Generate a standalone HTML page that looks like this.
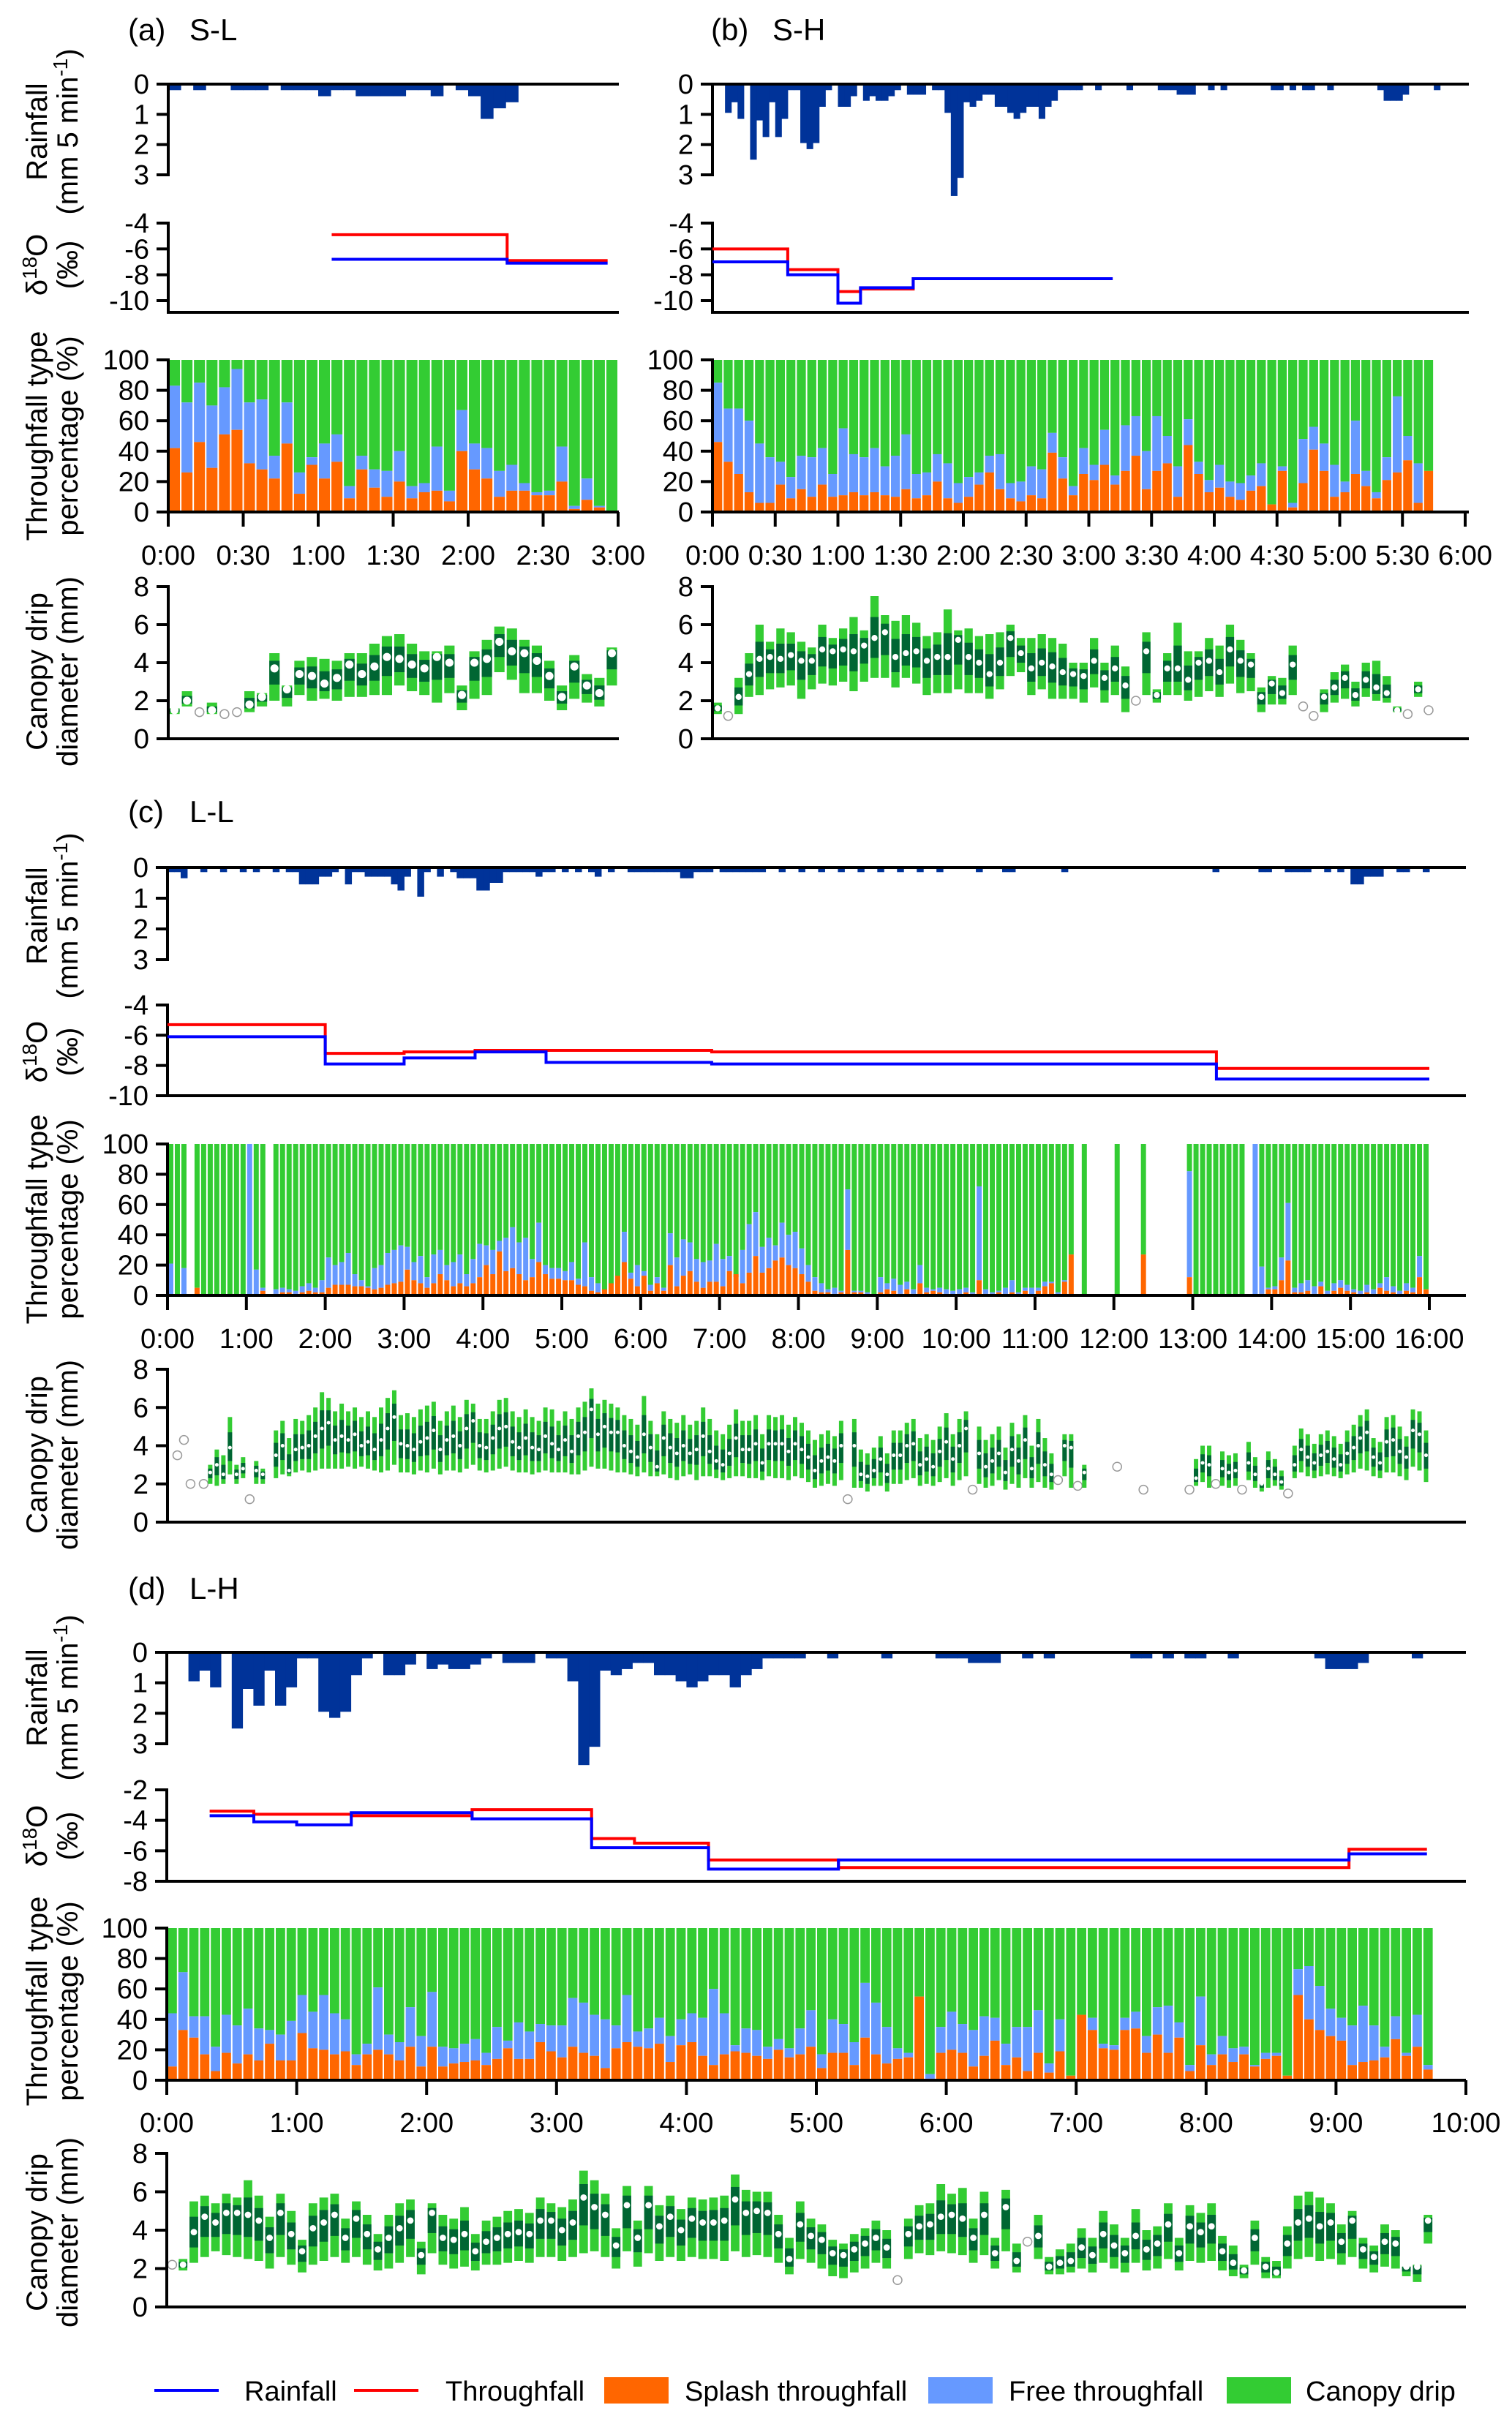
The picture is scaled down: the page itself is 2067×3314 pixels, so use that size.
<!DOCTYPE html>
<html><head><meta charset="utf-8"><style>
html,body{margin:0;padding:0;background:#fff}
svg{display:block;font-family:"Liberation Sans",Arial,sans-serif}
</style></head><body>
<svg id="fig" width="2067" height="3314" viewBox="0 0 2067 3314" xmlns="http://www.w3.org/2000/svg"></svg>
<script>
// ---------- DATA ----------
const aRain=[.2,0,.2,0,0,.2,.2,.2,0,.2,.2,.2,.4,.2,.2,.4,.4,.4,.4,.2,.2,.4,0,.2,.4,1.15,.8,.6,0,0,0,0,0,0,0,0];
const hRain=[0,0,.95,.6,1.15,0,2.5,1.2,1.75,.6,1.75,1.15,.2,.2,1.95,2.15,1.95,.75,.2,0,.75,.75,.4,0,.55,.4,.55,.55,.4,.2,0,.35,.35,.35,0,.2,.2,.95,3.7,3.1,.6,.75,.55,.35,.35,.75,.75,.95,1.15,.95,.75,.75,1.15,.75,.55,.2,.2,.2,.2,0,0,.2,0,0,0,0,.2,0,0,0,0,.2,.2,.2,.35,.35,.35,0,0,.2,0,.2,0,0,0,0,0,0,0,.2,.2,0,.2,0,.2,.2,0,0,.2,0,0,0,0,0,0,0,.2,.55,.55,.55,.35,0,0,0,0,.2,0,0,0,0];
const cRain=[.15,.15,.35,0,0,.15,0,0,.15,0,0,.15,0,.15,0,0,.15,0,.15,.15,
.55,.55,.55,.3,.3,.15,0,.55,.15,.15,.3,.3,.3,.3,.55,.75,.3,0,.95,.15,
0,.3,0,.15,.35,.35,.35,.75,.75,.5,.5,.15,.15,.15,.15,.15,.3,.15,.15,0,
.15,0,.15,0,.15,.3,0,.15,0,0,.15,.15,.15,.15,.15,.15,.15,.15,.35,.35,
.15,.15,.15,0,.15,.15,.15,.15,.15,.15,.15,0,0,.15,0,0,.15,0,0,.15,
0,0,.15,0,0,.15,0,0,.15,0,0,.15,0,0,.15,0,0,.15,0,0,
0,0,0,.15,0,0,0,.15,.15,0,0,0,0,0,0,0,.15,0,0,0,
0,0,0,0,0,0,0,0,0,0,0,0,0,0,0,0,0,0,0,.15,
0,0,0,0,0,0,.15,.15,0,0,.15,.15,.15,.15,0,0,.15,0,.15,0,
.55,.55,.3,.3,.3,0,0,.15,.15,0,0,.15];

const aRainT=[1.09,2.26,2.93], aRainV=[-6.8,-7.1];
const aTfT=[1.09,2.26,2.93], aTfV=[-4.9,-6.9];
const bRainT=[0,0.6,1.0,1.18,1.6,3.19], bRainV=[-7,-8,-10.2,-9,-8.3];
const bTfT=[0,0.6,1.0,1.18,1.6,3.19], bTfV=[-6,-7.6,-9.3,-9.1,-8.3];
const cRainT=[0,2,3,3.9,4.8,6.9,13.3,16], cRainV=[-6.1,-7.9,-7.5,-7.1,-7.8,-7.9,-8.9];
const cTfT=[0,2,3,3.9,4.8,6.9,13.3,16], cTfV=[-5.3,-7.2,-7.1,-7.0,-7.0,-7.1,-8.2];
const dRainT=[0.33,0.67,1.0,1.42,2.35,3.27,4.17,5.17,9.1,9.7], dRainV=[-3.7,-4.1,-4.3,-3.5,-3.9,-5.8,-7.2,-6.6,-6.2];
const dTfT=[0.33,0.67,1.42,2.35,3.27,3.6,4.17,5.17,9.1,9.7], dTfV=[-3.4,-3.6,-3.7,-3.3,-5.2,-5.5,-6.6,-7.1,-5.9];

const aSplash=[42,26,46,29,51,54,32,28,22,45,12,31,22,33,9,28,16,10,20,9,13,14,7,40,28,22,10,14,14,11,11,20,2,8,3,0];
const aTop=[83,72,85,70,82,94,72,74,37,72,26,36,45,51,17,37,28,27,40,17,19,43,14,67,45,42,27,31,19,13,14,43,4,22,4,0];
const bSplash=[46,33,25,13,6,6,18,9,15,10,18,10,11,13,11,13,11,10,15,9,11,20,9,6,10,18,26,15,9,7,11,9,39,22,11,25,21,31,18,27,37,15,27,32,10,44,25,13,16,10,8,14,17,5,27,3,19,41,27,10,13,25,17,9,21,26,34,6,27];
const bTop=[85,68,68,60,45,36,33,23,37,36,42,25,55,38,36,42,30,37,51,25,26,38,32,19,23,26,37,38,19,20,30,28,52,36,17,42,31,54,24,57,63,40,63,50,30,61,33,21,31,20,19,24,32,5,30,6,48,56,45,31,20,60,27,13,36,76,50,32,27];
const cSplash=[0,0,0,null,5,0,0,0,0,0,0,0,0,0,3,null,
1,2,2,1,2,3,2,2,
5,7,7,7,6,6,5,4,5,7,8,9,
17,10,8,5,8,14,10,6,8,6,8,12,
20,14,29,16,18,14,10,12,22,14,11,11,
10,10,7,6,3,2,4,8,13,22,11,6,
13,3,8,3,20,6,13,16,9,5,9,9,
6,16,14,8,15,26,15,18,23,25,20,18,
14,9,3,2,2,1,2,30,2,2,1,0,
2,4,3,1,4,1,8,2,3,2,1,0,
1,2,1,10,1,1,2,1,2,1,3,0,
3,6,8,1,9,27,null,0,null,null,null,null,
0,null,null,null,27,null,null,null,null,null,null,
12,0,0,0,0,0,0,0,0,null,0,1,4,4,10,23,2,2,3,1,6,1,3,5,3,2,1,2,1,5,3,2,1,3,2,12,4];
const cTop=[21,0,18,null,5,0,0,0,0,0,0,0,100,17,5,null,
4,5,4,3,6,8,5,10,
25,20,22,28,14,10,6,18,20,28,30,33,
32,22,26,12,27,30,20,22,27,14,24,34,
33,30,36,38,45,35,38,24,48,20,18,18,
16,22,11,35,12,8,3,7,8,42,15,20,
16,7,12,5,41,25,37,35,24,22,23,34,
24,26,12,30,47,55,32,38,33,48,40,42,
31,20,12,8,4,5,3,70,3,3,2,0,
12,8,11,7,9,4,20,5,4,5,4,3,
4,5,2,72,4,2,3,5,10,2,5,5,
5,9,9,2,10,27,null,0,null,null,null,null,
0,null,null,null,27,null,null,null,null,null,null,
82,0,0,0,0,0,0,0,0,null,100,19,5,6,25,61,5,8,10,6,9,3,8,10,7,4,3,7,4,8,12,6,3,8,5,26,4];
const dSplash=[9,33,28,17,6,18,11,17,13,24,13,13, 31,21,20,17,19,10,17,20,17,13,22,9, 22,9,11,12,13,10,14,21,14,14,25,19, 15,22,18,16,8,21,25,22,21,24,12,23, 25,16,10,17,19,18,16,14,20,15,17,22, 8,18,18,10,28,17,11,14,15,55,1,18, 20,18,9,16,26,10,15,6,18,5,19,3, 43,33,21,20,33,34,18,30,18,28,6,23, 10,17,12,17,9,14,16,3,56,40,33,29, 26,10,12,13,15,27,16,22,7];
const dTop=[44,71,42,42,22,43,36,47,34,33,30,39, 56,45,56,44,40,17,24,61,30,25,48,29, 58,22,21,24,27,18,35,26,38,32,37,36, 36,54,51,43,40,36,56,32,34,41,29,40, 44,41,60,44,23,34,33,22,27,21,34,46, 17,40,37,25,64,51,35,21,18,55,4,35, 45,37,33,42,41,24,35,35,46,11,40,3, 43,41,24,23,41,45,29,48,49,38,10,55, 17,29,21,22,10,18,18,3,73,75,62,47, 41,36,49,36,22,42,18,43,10];

const aMed=[1.5,2.0,1.4,1.5,1.3,1.4,1.8,2.2,3.7,2.6,3.4,3.3,2.9,3.2,3.9,3.4,3.8,4.3,4.2,3.9,3.7,4.3,4.0,2.3,4.0,4.2,5.1,4.6,4.5,4.1,3.3,2.2,3.8,2.8,2.4,4.5];
const aLow=[1.3,1.7,1.4,1.3,1.3,1.4,1.4,1.7,2.0,1.7,2.3,2.0,2.1,2.0,2.2,2.2,2.3,2.3,2.8,2.5,2.3,1.9,2.4,1.5,2.1,2.3,3.5,3.1,2.4,2.4,2.0,1.5,2.1,1.9,1.7,2.8];
const aHigh=[1.6,2.5,1.4,1.9,1.3,1.4,2.5,2.4,4.5,2.8,4.1,4.3,4.2,4.1,4.5,4.5,5.0,5.4,5.5,5.0,4.6,4.6,4.9,2.8,4.6,5.2,5.9,5.8,5.2,4.9,4.1,2.8,4.4,3.4,3.2,4.8];
const bMed=[1.6,1.2,2.2,3.4,4.2,4.3,4.2,4.4,4.1,4.1,4.7,4.6,4.7,4.6,4.9,5.3,5.6,4.3,4.5,4.6,4.1,4.3,4.3,5.2,4.3,4.0,3.4,4.0,5.3,4.5,3.7,4.0,3.8,3.5,3.4,3.3,4.1,3.2,3.7,2.8,2.0,4.6,2.3,3.7,3.7,3.1,4.0,4.1,3.5,4.7,4.1,3.9,2.2,2.9,2.4,3.9,1.7,1.2,2.2,2.7,3.2,2.3,3.1,2.7,2.4,1.5,1.3,2.6,1.5];
const bLow=[1.3,1.2,1.3,2.2,2.3,2.6,2.7,2.8,2.1,2.6,2.9,2.8,3.0,2.5,3.0,3.2,3.2,2.7,3.2,2.9,2.3,2.4,2.4,2.6,2.4,2.4,2.1,2.6,3.3,3.5,2.3,2.6,2.1,2.1,2.1,1.9,2.7,1.9,2.3,1.4,2.0,2.3,1.9,2.3,2.3,2.0,2.2,2.5,2.2,2.9,2.4,2.5,1.4,1.8,1.8,2.3,1.7,1.2,1.4,1.9,2.1,1.7,2.2,2.0,1.9,1.4,1.3,2.2,1.5];
const bHigh=[1.9,1.2,3.2,4.5,6.0,5.1,5.8,5.6,5.1,4.8,6.0,5.3,5.8,6.4,5.7,7.5,6.5,6.2,6.5,6.1,5.4,5.6,6.8,5.7,5.8,5.4,5.5,5.6,6.0,5.3,5.3,5.5,5.3,5.0,4.0,4.0,5.3,4.0,4.9,3.8,2.0,5.6,2.6,4.5,6.1,4.6,4.6,5.3,4.9,6.0,5.2,4.5,2.7,3.3,3.2,4.9,1.7,1.2,2.6,3.5,3.9,3.0,4.0,4.1,3.3,1.7,1.3,3.0,1.5];
const N=null;
const cMed=[N,3.5,4.3,2.0,N,2.0,2.6,3.0,2.5,3.9,2.5,2.8,1.2,2.7,2.5,N,
3.5,4.0,2.7,3.8,3.9,4.0,4.5,4.9,
5.2,4.3,4.5,4.3,4.6,4.0,4.2,3.8,4.3,4.9,5.5,4.1,
4.0,3.8,4.2,4.4,4.8,3.8,4.3,4.5,4.0,4.9,5.3,4.0,
3.9,4.4,4.9,5.0,4.2,3.9,4.4,3.9,3.8,4.5,4.1,3.8,
4.3,3.7,4.5,4.7,5.9,4.6,5.0,4.7,4.7,4.0,3.7,3.4,
4.6,3.9,2.9,4.4,3.9,3.6,4.0,3.6,3.8,4.5,3.7,3.2,
3.0,3.6,4.4,3.8,3.8,4.1,3.1,4.1,4.1,4.1,3.7,4.1,
3.8,3.4,2.7,3.2,3.4,3.2,4.0,1.2,4.0,2.5,2.4,2.7,
3.3,2.5,3.5,3.5,4.0,4.1,3.0,3.3,2.9,3.7,4.2,3.3,
4.0,4.9,1.7,3.6,2.9,3.2,3.6,2.6,3.8,3.2,4.3,2.8,
4.0,3.0,2.5,2.2,4.0,3.9,1.9,2.6,N,N,N,N,
2.9,N,N,N,1.7,N,N,N,N,N,N,1.7,
2.3,3.1,3.0,2.0,2.8,2.6,2.7,1.7,3.1,2.5,2.0,2.8,
2.5,2.1,1.5,3.0,3.8,3.4,3.1,3.5,3.7,3.3,3.0,3.6,
3.9,4.4,4.7,3.4,3.1,4.2,4.3,3.7,3.4,4.8,4.6,3.5];
const cLow=[N,3.5,4.3,2.0,N,2.0,2.0,1.9,2.0,2.5,2.0,2.3,1.2,2.0,2.0,N,
2.3,2.5,2.4,2.6,2.7,2.6,2.7,2.8,
2.8,2.8,2.8,2.9,2.8,2.9,2.8,2.7,2.6,2.7,3.0,2.6,
2.6,2.5,2.7,2.6,2.8,2.5,2.7,2.7,2.6,2.8,3.0,2.7,
2.6,2.7,2.8,2.9,2.7,2.6,2.6,2.5,2.6,2.7,2.6,2.6,
2.6,2.5,2.5,2.7,2.9,2.8,2.8,2.7,2.6,2.6,2.5,2.4,
2.6,2.4,2.4,2.5,2.3,2.2,2.4,2.5,2.2,2.4,2.4,2.3,
2.2,2.3,2.4,2.4,2.3,2.3,2.2,2.4,2.3,2.3,2.2,2.4,
2.3,2.1,1.8,1.9,2.0,1.9,2.2,1.2,1.8,1.8,1.6,1.9,
1.9,1.6,2.0,2.0,2.2,2.3,1.9,2.0,1.9,2.1,2.3,1.9,
2.2,2.4,1.7,2.0,1.8,1.9,2.2,1.7,2.0,1.8,2.3,1.8,
2.1,1.8,1.7,2.2,2.4,1.8,1.9,1.8,N,N,N,N,
2.9,N,N,N,1.7,N,N,N,N,N,N,1.7,
1.9,2.1,1.8,2.0,1.9,1.8,1.9,1.7,2.2,1.8,1.6,1.8,
1.9,1.7,1.5,2.3,2.6,2.4,2.3,2.4,2.5,2.4,2.3,2.5,
2.6,2.8,2.7,2.4,2.3,2.6,2.6,2.4,2.2,2.9,2.7,2.1];
const cHigh=[N,3.5,4.3,2.0,N,2.0,3.0,3.8,3.5,5.5,3.0,3.4,1.2,3.2,2.8,N,
4.8,5.3,4.4,5.4,5.3,5.6,6.0,6.8,
6.5,5.8,6.2,5.8,6.0,5.5,5.8,5.5,6.0,6.5,6.9,5.6,
5.7,5.5,5.9,6.1,6.3,5.3,5.8,6.1,5.5,6.4,6.2,5.4,
5.4,5.8,6.4,6.5,5.8,5.5,5.9,5.5,5.3,6.0,5.9,5.3,
5.8,5.4,6.0,6.3,7.0,6.2,6.4,6.2,6.0,5.6,5.4,5.1,
6.6,5.3,4.6,5.8,5.4,5.2,5.6,5.1,5.3,6.0,5.4,4.8,
4.6,5.1,5.9,5.3,5.3,5.6,4.6,5.6,5.5,5.6,5.1,5.5,
5.2,4.8,4.3,4.6,4.8,4.5,5.3,1.2,5.4,3.8,3.6,3.9,
4.5,3.6,4.8,4.8,5.2,5.4,4.4,4.6,4.3,5.0,5.7,4.6,
5.4,5.8,1.7,5.0,4.3,4.6,5.0,3.9,5.2,4.6,5.6,4.0,
5.4,4.4,3.6,2.2,4.6,4.6,1.9,3.0,N,N,N,N,
2.9,N,N,N,1.7,N,N,N,N,N,N,1.7,
3.3,4.0,4.0,2.0,3.7,3.5,3.6,1.7,4.2,3.4,2.0,3.7,
3.3,2.7,1.5,4.0,4.9,4.6,4.1,4.6,4.8,4.5,4.1,4.8,
5.1,5.6,5.9,4.4,4.2,5.5,5.6,5.0,4.5,5.9,5.8,4.8];
const dMed=[2.2,2.2,3.9,4.7,4.4,4.9,4.9,4.8,4.5,3.6,4.9,3.8, 2.9,4.1,4.4,4.8,3.6,4.6,3.8,3.0,3.6,4.1,4.5,2.7, 4.9,3.6,3.5,3.8,2.9,3.4,3.6,3.8,3.9,3.8,4.5,4.5, 4.0,4.4,5.7,5.2,4.8,3.2,5.3,3.6,5.3,4.2,4.7,4.0, 4.6,4.4,4.4,4.5,5.6,4.9,5.0,4.9,3.8,2.5,4.3,3.7, 3.5,2.8,2.7,3.0,3.3,3.6,3.1,1.4,3.8,4.2,4.3,4.7, 4.8,4.6,3.6,4.8,2.8,5.2,2.4,3.4,3.7,2.1,2.3,2.4, 3.1,2.7,3.8,3.2,2.8,3.7,3.0,3.3,4.3,2.8,4.2,3.9, 4.2,2.9,2.3,1.9,3.6,2.1,1.8,3.3,4.4,4.6,4.2,4.4, 3.4,4.5,3.0,2.6,3.4,3.3,2.1,2.1,4.5];
const dLow=[2.2,1.9,2.3,2.6,2.9,2.7,2.6,2.5,2.4,2.0,2.6,2.2, 1.8,2.2,2.4,2.6,2.3,2.6,2.2,1.9,2.0,2.3,2.6,1.7, 2.8,2.2,2.0,2.1,1.9,2.2,2.2,2.3,2.4,2.3,2.6,2.6, 2.4,2.6,2.8,2.9,2.6,2.0,2.9,2.1,2.8,2.4,2.6,2.4, 2.6,2.5,2.5,2.4,2.9,2.6,2.7,2.6,2.3,1.7,2.5,2.3, 2.0,1.6,1.5,1.8,2.0,2.3,2.0,1.4,2.5,2.8,2.7,2.9, 2.8,2.7,2.3,2.7,2.0,2.9,1.8,3.4,2.5,1.7,1.7,1.8, 2.0,1.8,2.3,2.0,1.8,2.3,1.9,2.0,2.5,1.9,2.4,2.3, 2.4,1.9,1.6,1.5,2.2,1.5,1.5,2.0,2.5,2.6,2.4,2.5, 2.2,2.6,2.0,1.8,2.1,2.0,1.6,1.3,3.3];
const dHigh=[2.2,2.5,5.5,5.8,5.4,5.9,5.7,6.6,5.8,4.7,5.9,5.0, 3.5,5.4,5.7,5.9,4.6,5.5,4.8,3.8,4.8,5.4,5.6,3.4, 5.4,4.8,4.6,5.2,3.8,4.5,4.7,5.0,5.1,4.9,5.7,5.4, 5.2,5.6,7.1,6.6,5.9,4.1,6.3,4.5,6.3,5.3,5.8,5.1, 5.7,5.6,5.7,5.8,6.9,6.1,6.0,6.0,4.8,3.6,5.5,4.6, 4.3,3.5,3.3,3.8,4.1,4.5,4.0,1.4,4.6,5.3,5.4,6.4, 5.9,6.2,4.6,6.0,3.6,6.1,3.3,3.4,4.8,2.6,3.0,3.3, 4.1,3.6,5.0,4.3,3.6,5.1,4.0,4.2,5.4,3.6,5.3,4.9, 5.4,3.7,3.2,2.2,4.5,2.6,2.4,4.2,5.8,6.0,5.7,5.4, 4.3,5.0,3.6,3.2,4.3,4.0,2.1,2.2,4.8];

const rainTicks=[0,1,2,3];
const dTicksA=[-4,-6,-8,-10], dTicksD=[-2,-4,-6,-8];
const pctTicks=[0,20,40,60,80,100];
const dropTicks=[0,2,4,6,8];
const tLabA=["0:00","0:30","1:00","1:30","2:00","2:30","3:00"];
const tLabB=["0:00","0:30","1:00","1:30","2:00","2:30","3:00","3:30","4:00","4:30","5:00","5:30","6:00"];
const tLabC=["0:00","1:00","2:00","3:00","4:00","5:00","6:00","7:00","8:00","9:00","10:00","11:00","12:00","13:00","14:00","15:00","16:00"];
const tLabD=["0:00","1:00","2:00","3:00","4:00","5:00","6:00","7:00","8:00","9:00","10:00"];

// ---------- DRAWING ----------
const NS="http://www.w3.org/2000/svg";
const svg=document.getElementById('fig');
function el(tag,attrs,parent){const e=document.createElementNS(NS,tag);for(const k in attrs)e.setAttribute(k,attrs[k]);(parent||svg).appendChild(e);return e;}
function txt(s,x,y,size,anchor,parent){const t=el('text',{x:x,y:y,'font-size':size,'text-anchor':anchor||'start',fill:'#000'},parent);t.textContent=s;return t;}

const C={rain:'#003399',blue:'#0000ff',red:'#ff0000',splash:'#ff6600',free:'#6699ff',drip:'#33cc33',dark:'#006633'};

function drawPanel(P){
  const g=el('g',{});
  
  
  const xs=t=>P.x0+t/P.tmax*(P.x1-P.x0);
  const tt=txt('('+P.id+')',P.titleX,P.titleY,42,'start',g);
  
  
  txt(P.label,P.titleX+84,P.titleY,42,'start',g);
  const FS=38;
  const ry=v=>P.r0+v*(P.r3-P.r0)/3;
  const bw=(P.rainBin/60);
  P.rain.forEach((v,i)=>{ if(!v) return;
    const r=el('rect',{x:xs(i*bw),y:P.r0,width:xs((i+1)*bw)-xs(i*bw)+0.5,height:ry(v)-P.r0,fill:C.rain},g);
    
    
  });
  el('line',{x1:P.x0,y1:P.r0,x2:P.xEnd,y2:P.r0,stroke:'#000','stroke-width':4},g);
  el('line',{x1:P.x0,y1:P.r0-2,x2:P.x0,y2:P.r3+2,stroke:'#000','stroke-width':4},g);
  rainTicks.forEach(v=>{el('line',{x1:P.x0-16,y1:ry(v),x2:P.x0,y2:ry(v),stroke:'#000','stroke-width':4},g);txt(String(v),P.x0-26,ry(v)+13,FS,'end',g);});
  const dy=v=>P.dTopY+(P.dTicks[0]-v)/(P.dTicks[0]-P.dTicks[P.dTicks.length-1])*(P.dBotTickY-P.dTopY);
  el('line',{x1:P.x0,y1:P.dTopY-2,x2:P.x0,y2:P.dAxisY,stroke:'#000','stroke-width':4},g);
  el('line',{x1:P.x0-2,y1:P.dAxisY,x2:P.xEnd,y2:P.dAxisY,stroke:'#000','stroke-width':4},g);
  P.dTicks.forEach(v=>{el('line',{x1:P.x0-16,y1:dy(v),x2:P.x0,y2:dy(v),stroke:'#000','stroke-width':4},g);txt(String(v),P.x0-26,dy(v)+13,FS,'end',g);});
  function step(T,V,col,name){
    let d='M'+xs(T[0])+' '+dy(V[0]);
    for(let i=0;i<V.length;i++){ if(i>0) d+=' V'+dy(V[i]); d+=' H'+xs(T[i+1]); }
    const p=el('path',{d:d,fill:'none',stroke:col,'stroke-width':4},g);
    
    
  }
  step(P.tfT,P.tfV,C.red,'throughfall-d18o-line');
  step(P.rnT,P.rnV,C.blue,'rainfall-d18o-line');
  const py=v=>P.p0+(P.p100-P.p0)*v/100;
  const tb=5/60;
  P.spl.forEach((s,i)=>{ const top=P.top[i]; if(s===null||top===null) return;
    const xa=xs(i*tb)+1, w=xs((i+1)*tb)-xs(i*tb)-2;
    const r1=el('rect',{x:xa,y:py(100),width:w,height:py(top)-py(100),fill:C.drip},g);
    
    
    if(top>s){const r2=el('rect',{x:xa,y:py(top),width:w,height:py(s)-py(top),fill:C.free},g);
      
      }
    if(s>0){const r3=el('rect',{x:xa,y:py(s),width:w,height:P.p0-py(s),fill:C.splash},g);
      
      }
  });
  el('line',{x1:P.x0,y1:py(100)-2,x2:P.x0,y2:P.p0,stroke:'#000','stroke-width':4},g);
  el('line',{x1:P.x0-2,y1:P.p0,x2:P.xEnd,y2:P.p0,stroke:'#000','stroke-width':4},g);
  pctTicks.forEach(v=>{el('line',{x1:P.x0-16,y1:py(v),x2:P.x0,y2:py(v),stroke:'#000','stroke-width':4},g);txt(String(v),P.x0-26,py(v)+13,FS,'end',g);});
  P.tl.forEach((s,i)=>{const t=i*P.tmax/(P.tl.length-1);const x=xs(t);
    el('line',{x1:x,y1:P.p0,x2:x,y2:P.p0+20,stroke:'#000','stroke-width':4},g);txt(s,x,P.labY+13,FS,'middle',g);});
  const cy=v=>P.c0+(P.c8-P.c0)*v/8;
  P.med.forEach((m,i)=>{ if(m===null) return;
    const lo=P.lo[i], hi=P.hi[i];
    const xa=xs(i*tb)+1.5, w=xs((i+1)*tb)-xs(i*tb)-3, xc=xa+w/2;
    if(hi-lo>0.05){
      const b=el('rect',{x:xa,y:cy(hi),width:w,height:cy(lo)-cy(hi),fill:C.drip},g);
      
      
      const q1=(lo+m)/2,q3=(m+hi)/2;
      el('rect',{x:xa,y:cy(q3),width:w,height:cy(q1)-cy(q3),fill:C.dark},g);
      const c=el('circle',{cx:xc,cy:cy(m),r:Math.max(2.5,Math.min(6,w/2-1.5)),fill:'#fff'},g);
      
      
    } else {
      const c=el('circle',{cx:xc,cy:cy(m),r:6,fill:'#fff',stroke:'#999','stroke-width':1.5},g);
      
      
    }
  });
  el('line',{x1:P.x0,y1:cy(8)-2,x2:P.x0,y2:P.c0,stroke:'#000','stroke-width':4},g);
  el('line',{x1:P.x0-2,y1:P.c0,x2:P.xEnd,y2:P.c0,stroke:'#000','stroke-width':4},g);
  dropTicks.forEach(v=>{el('line',{x1:P.x0-16,y1:cy(v),x2:P.x0,y2:cy(v),stroke:'#000','stroke-width':4},g);txt(String(v),P.x0-26,cy(v)+13,FS,'end',g);});
  if(P.yt){
    function vt(lines,cyy,name){
      const t=el('text',{transform:'translate(0,'+cyy+') rotate(-90)','font-size':40,'text-anchor':'middle'},g);
      
      
      lines.forEach((ln,k)=>{const ts=el('tspan',{x:0,y:(k===0?64:106)},t); ln(ts);});
    }
    vt([ts=>{ts.textContent='Rainfall';},ts=>{ts.appendChild(document.createTextNode('(mm 5 min'));const s=el('tspan',{dy:-14,'font-size':28},ts);s.textContent='-1';const e=el('tspan',{dy:14},ts);e.textContent=')';}],P.yt[0],'rainfall-axis-title');
    vt([ts=>{ts.appendChild(document.createTextNode('δ'));const s=el('tspan',{dy:-14,'font-size':28},ts);s.textContent='18';const e=el('tspan',{dy:14},ts);e.textContent='O';},ts=>{ts.textContent='(‰)';}],P.yt[1],'d18o-axis-title');
    vt([ts=>{ts.textContent='Throughfall type';},ts=>{ts.textContent='percentage (%)';}],P.yt[2],'throughfall-percentage-axis-title');
    vt([ts=>{ts.textContent='Canopy drip';},ts=>{ts.textContent='diameter (mm)';}],P.yt[3],'drop-diameter-axis-title');
  }
}

drawPanel({id:'a',label:'S-L',titleX:175,titleY:55,x0:230,x1:845,xEnd:846,tmax:3,
  rain:aRain,rainBin:5,r0:115,r3:239,
  dTicks:dTicksA,dTopY:305,dBotTickY:411,dAxisY:427,rnT:aRainT,rnV:aRainV,tfT:aTfT,tfV:aTfV,
  spl:aSplash,top:aTop,p100:492,p0:700,labY:759,tl:tLabA,
  med:aMed,lo:aLow,hi:aHigh,c8:802,c0:1010,yt:[180,362,596,918]});
drawPanel({id:'b',label:'S-H',titleX:972,titleY:55,x0:974,x1:2003,xEnd:2008,tmax:6,
  rain:hRain,rainBin:3,r0:115,r3:239,
  dTicks:dTicksA,dTopY:305,dBotTickY:411,dAxisY:427,rnT:bRainT,rnV:bRainV,tfT:bTfT,tfV:bTfV,
  spl:bSplash,top:bTop,p100:492,p0:700,labY:759,tl:tLabB,
  med:bMed,lo:bLow,hi:bHigh,c8:802,c0:1010,yt:null});
drawPanel({id:'c',label:'L-L',titleX:175,titleY:1124,x0:229,x1:1954,xEnd:2004,tmax:16,
  rain:cRain,rainBin:5,r0:1186,r3:1312,
  dTicks:dTicksA,dTopY:1374,dBotTickY:1498,dAxisY:1498,rnT:cRainT,rnV:cRainV,tfT:cTfT,tfV:cTfV,
  spl:cSplash,top:cTop,p100:1564,p0:1771,labY:1830,tl:tLabC,
  med:cMed,lo:cLow,hi:cHigh,c8:1872,c0:2081,yt:[1252,1438,1667,1989]});
drawPanel({id:'d',label:'L-H',titleX:175,titleY:2186,x0:228,x1:2004,xEnd:2004,tmax:10,
  rain:hRain,rainBin:5,r0:2259,r3:2384,
  dTicks:dTicksD,dTopY:2447,dBotTickY:2572,dAxisY:2572,rnT:dRainT,rnV:dRainV,tfT:dTfT,tfV:dTfV,
  spl:dSplash,top:dTop,p100:2636,p0:2844,labY:2902,tl:tLabD,
  med:dMed,lo:dLow,hi:dHigh,c8:2944,c0:3154,yt:[2321,2510,2736,3052]});

const lg=el('g',{});


const LY=3268;
function legLine(x,col,label,tx){
  const l=el('line',{x1:x,y1:LY,x2:x+88,y2:LY,stroke:col,'stroke-width':4},lg);
  
  
  txt(label,tx,LY+14,38,'start',lg);
}
function legBox(x,col,label,tx,name){
  const r=el('rect',{x:x,y:LY-18,width:88,height:36,fill:col},lg);
  
  
  txt(label,tx,LY+14,38,'start',lg);
}
legLine(211,C.blue,'Rainfall',334);
legLine(484,C.red,'Throughfall',609);
legBox(826,C.splash,'Splash throughfall',936,'legend-entry-splash');
legBox(1269,C.free,'Free throughfall',1379,'legend-entry-free');
legBox(1677,C.drip,'Canopy drip',1785,'legend-entry-canopy-drip');
</script>
</body></html>
